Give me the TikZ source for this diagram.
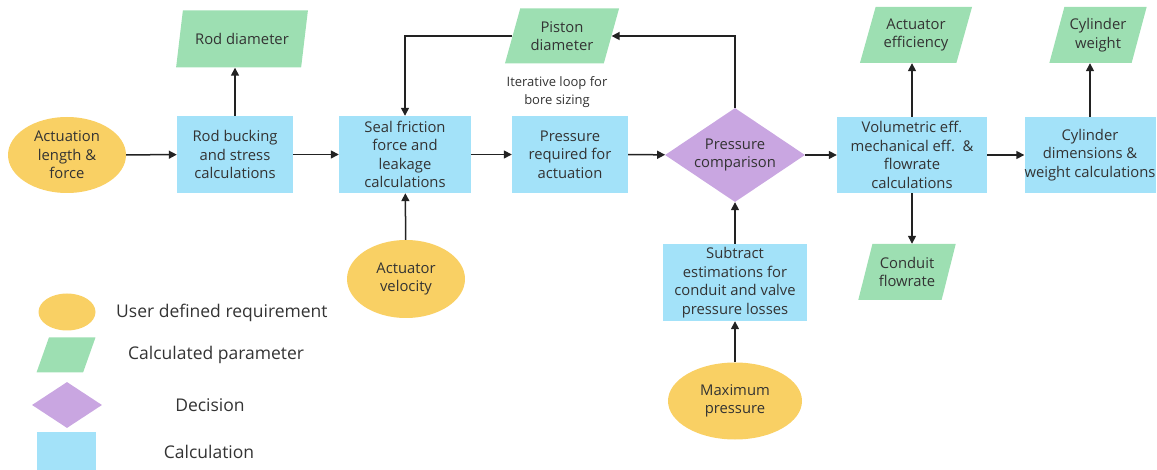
\documentclass[tikz,border=0pt]{standalone}
\usepackage{fontspec}
\setmainfont{Open Sans}
\usetikzlibrary{shapes.geometric,arrows.meta}
\definecolor{ureq}{HTML}{F9D064}
\definecolor{cpar}{HTML}{9DDFB2}
\definecolor{dec}{HTML}{C9A6E1}
\definecolor{calc}{HTML}{A3E2F9}
\definecolor{txt}{HTML}{333333}
\definecolor{arr}{HTML}{222222}
\tikzset{
  base/.style={align=center, text=txt, font=\fontsize{14.8}{18.5}\selectfont, inner sep=0pt},
  calcbox/.style={base, rectangle, fill=calc},
  reqnode/.style={base, ellipse, fill=ureq},
  parnode/.style={base, inner sep=2pt, trapezium, trapezium left angle=70, trapezium right angle=110, trapezium stretches=true, fill=cpar},
  decnode/.style={base, inner sep=0.5pt, diamond, aspect=1.49, fill=dec},
  legtext/.style={text=txt, font=\fontsize{17.5}{21}\selectfont, inner sep=0pt},
  conn/.style={draw=arr, line width=1.5pt, -{Triangle[length=8pt,width=8pt]}}
}
\begin{document}
\begin{tikzpicture}[x=1pt,y=-1pt]
\useasboundingbox (0,0) rectangle (1157,470);
% main nodes
\node[reqnode, minimum width=118, minimum height=76] (act) at (67,155) {Actuation\\length \&\\force};
\node[calcbox, minimum width=116, minimum height=77] (rod) at (235,154.5) {Rod bucking\\and stress\\calculations};
\node[parnode, minimum width=132, minimum height=57] (rodd) at (242,39) {Rod diameter};
\node[calcbox, minimum width=132, minimum height=77] (seal) at (405,154.5) {Seal friction\\force and\\leakage\\calculations};
\node[calcbox, minimum width=116, minimum height=77] (preq) at (570,154.5) {Pressure\\required for\\actuation};
\node[parnode, minimum width=115, minimum height=55] (pist) at (562,36) {Piston\\diameter};
\node[text=txt, font=\fontsize{13}{18}\selectfont, align=center, inner sep=0pt] (iter) at (557,92) {Iterative loop for\\bore sizing};
\node[decnode, minimum width=140, minimum height=94] (cmp) at (735,155) {Pressure\\comparison};
\node[calcbox, minimum width=150, minimum height=76] (vol) at (912,155) {Volumetric eff.\\mechanical eff.~~\&\\flowrate\\calculations};
\node[parnode, minimum width=113, minimum height=56] (aeff) at (916,35) {Actuator\\efficiency};
\node[parnode, minimum width=98, minimum height=56] (cond) at (907,272) {Conduit\\flowrate};
\node[calcbox, minimum width=130, minimum height=76] (cyl) at (1090,155) {Cylinder\\dimensions \&\\weight calculations};
\node[parnode, minimum width=98, minimum height=56] (cylw) at (1098,35) {Cylinder\\weight};
\node[reqnode, minimum width=118, minimum height=78] (vel) at (406,279) {Actuator\\velocity};
\node[calcbox, minimum width=144, minimum height=77] (sub) at (735,282.5) {Subtract\\estimations for\\conduit and valve\\pressure losses};
\node[reqnode, minimum width=134, minimum height=77] (maxp) at (735,401) {Maximum\\pressure};
% connectors
\draw[conn] (act) -- (rod);
\draw[conn] (rod) -- (seal);
\draw[conn] (seal) -- (preq);
\draw[conn] (preq) -- (cmp);
\draw[conn] (cmp) -- (vol);
\draw[conn] (vol) -- (cyl);
\draw[conn] (rod.north) -- (rod.north |- rodd.south);
\draw[conn] (vol.north) -- (vol.north |- aeff.south);
\draw[conn] (vol.south) -- (vol.south |- cond.north);
\draw[conn] (cyl.north) -- (cyl.north |- cylw.south);
\draw[conn] (vel) -- (seal);
\draw[conn] (maxp) -- (sub);
\draw[conn] (sub) -- (cmp);
\draw[conn] (cmp.north) |- (pist.east);
\draw[conn] (pist.west) -| (seal.north);
% legend
\node[reqnode, minimum width=57, minimum height=37] (l1) at (67,312) {};
\node[legtext, anchor=west] (t1) at (116,313) {User defined requirement};
\node[parnode, minimum width=59, minimum height=35] (l2) at (66,355) {};
\node[legtext, anchor=west] (t2) at (128,355) {Calculated parameter};
\node[decnode, minimum width=70, minimum height=46] (l3) at (67,405) {};
\node[legtext] (t3) at (210,405) {Decision};
\node[calcbox, minimum width=59, minimum height=40] (l4) at (66,452) {};
\node[legtext] (t4) at (209,452) {Calculation};
\end{tikzpicture}
\end{document}
